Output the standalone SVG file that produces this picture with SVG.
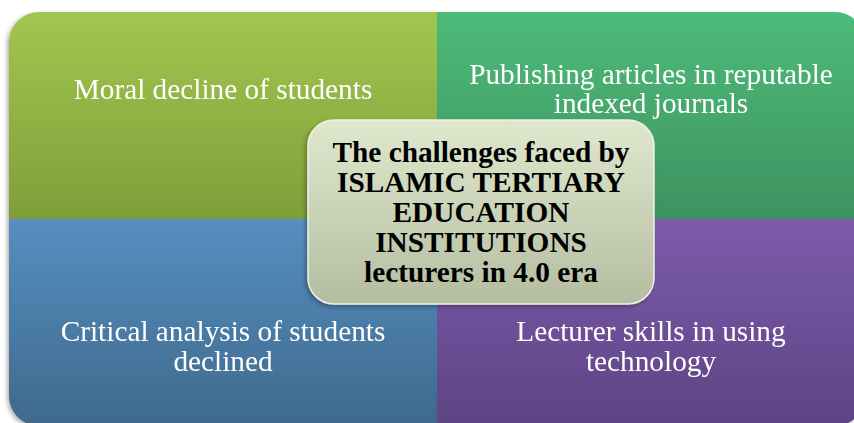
<svg xmlns="http://www.w3.org/2000/svg" width="854" height="423" viewBox="0 0 854 423">
<style>
.q{font-family:"Liberation Serif","Times New Roman",serif;font-size:29.3px;fill:#ffffff;text-anchor:middle}
.c{font-family:"Liberation Serif","Times New Roman",serif;font-size:29.3px;font-weight:bold;fill:#000000;text-anchor:middle}
</style>
<defs>
<linearGradient id="gTL" x1="0" y1="0" x2="0" y2="1"><stop offset="0" stop-color="#A2C64E"/><stop offset="1" stop-color="#7F9E3A"/></linearGradient>
<linearGradient id="gTR" x1="0" y1="0" x2="0" y2="1"><stop offset="0" stop-color="#4EBB79"/><stop offset="1" stop-color="#3D9360"/></linearGradient>
<linearGradient id="gBL" x1="0" y1="0" x2="0" y2="1"><stop offset="0" stop-color="#568FC0"/><stop offset="1" stop-color="#3E698C"/></linearGradient>
<linearGradient id="gBR" x1="0" y1="0" x2="0" y2="1"><stop offset="0" stop-color="#7C5CAA"/><stop offset="1" stop-color="#5E4484"/></linearGradient>
<linearGradient id="gC" x1="0" y1="0" x2="0" y2="1"><stop offset="0" stop-color="#DFE7CD"/><stop offset="1" stop-color="#B5BDA1"/></linearGradient>
<filter id="sh" x="-5%" y="-5%" width="110%" height="115%"><feDropShadow dx="-2" dy="2" stdDeviation="2" flood-color="#000" flood-opacity="0.3"/></filter>
</defs>
<g filter="url(#sh)">
<g id="moral-decline">
<path d="M9,42 A30,30 0 0 1 39,12 L437,12 L437,219 L9,219 Z" fill="url(#gTL)"/>
<text class="q" x="223" y="99">Moral decline of students</text>
</g>
<g id="publishing-articles">
<path d="M437,12 L835,12 A30,30 0 0 1 865,42 L865,219 L437,219 Z" fill="url(#gTR)"/>
<text class="q" x="651" y="84">Publishing articles in reputable</text>
<text class="q" x="651" y="113">indexed journals</text>
</g>
<g id="critical-analysis">
<path d="M9,219 L437,219 L437,426 L39,426 A30,30 0 0 1 9,396 Z" fill="url(#gBL)"/>
<text class="q" x="223" y="341">Critical analysis of students</text>
<text class="q" x="223" y="371">declined</text>
</g>
<g id="lecturer-skills">
<path d="M437,219 L865,219 L865,396 A30,30 0 0 1 835,426 L437,426 Z" fill="url(#gBR)"/>
<text class="q" x="651" y="341">Lecturer skills in using</text>
<text class="q" x="651" y="371">technology</text>
</g>
</g>
<g id="center">
<rect x="308" y="120" width="346" height="184" rx="26" ry="26" fill="url(#gC)" stroke="#EEF2E4" stroke-width="1.5" filter="url(#sh)"/>
<text class="c" x="481" y="162">The challenges faced by</text>
<text class="c" x="481" y="192">ISLAMIC TERTIARY</text>
<text class="c" x="481" y="222">EDUCATION</text>
<text class="c" x="481" y="252">INSTITUTIONS</text>
<text class="c" x="481" y="282">lecturers in 4.0 era</text>
</g>
</svg>
